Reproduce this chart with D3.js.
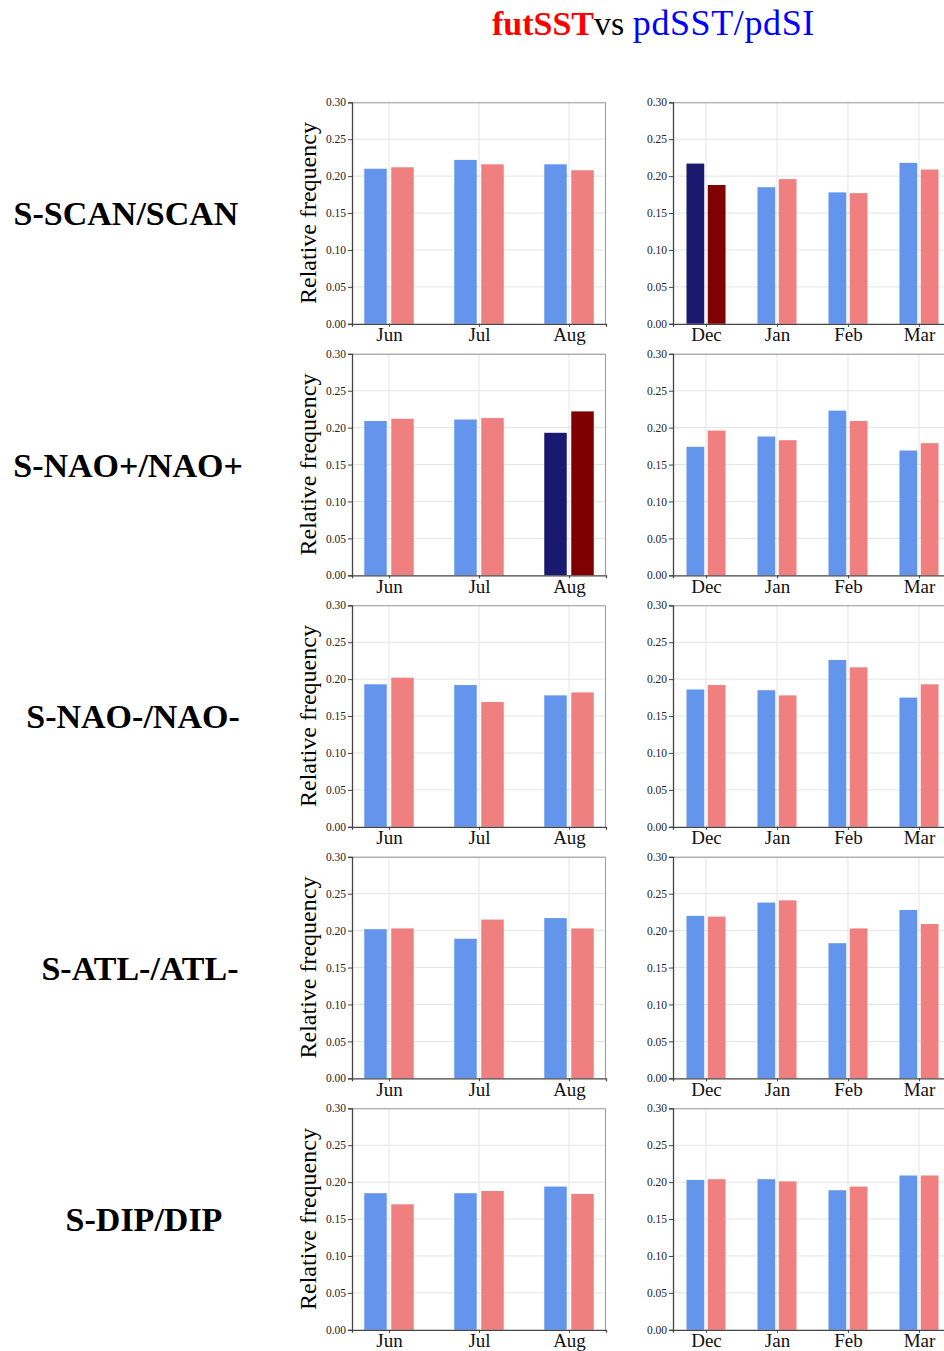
<!DOCTYPE html>
<html>
<head>
<meta charset="utf-8">
<script src="https://cdn.jsdelivr.net/npm/d3@7"></script>
<style>
  body { margin: 0; background: #fff; }
  svg { display: block; }
</style>
</head>
<body>
<div id="chart"></div>
<script>
// data
const summerMonths = ['Jun', 'Jul', 'Aug'];
const winterMonths = ['Dec', 'Jan', 'Feb', 'Mar'];
const regimes = ['S-SCAN/SCAN', 'S-NAO+/NAO+', 'S-NAO-/NAO-', 'S-ATL-/ATL-', 'S-DIP/DIP'];
const yTicks = [0, 0.05, 0.10, 0.15, 0.20, 0.25, 0.30];

// pdSST/pdSI (blue) and futSST (red), one row per regime
const summerPd = [
    [0.210, 0.222, 0.216],
    [0.209, 0.211, 0.193],
    [0.193, 0.192, 0.178],
    [0.202, 0.189, 0.217],
    [0.185, 0.185, 0.194]
];
const summerFut = [
    [0.212, 0.216, 0.208],
    [0.212, 0.213, 0.222],
    [0.202, 0.169, 0.182],
    [0.203, 0.215, 0.203],
    [0.170, 0.188, 0.184]
];
const winterPd = [
    [0.217, 0.185, 0.178, 0.218],
    [0.174, 0.188, 0.223, 0.169],
    [0.186, 0.185, 0.226, 0.175],
    [0.220, 0.238, 0.183, 0.228],
    [0.203, 0.204, 0.189, 0.209]
];
const winterFut = [
    [0.188, 0.196, 0.177, 0.209],
    [0.196, 0.183, 0.209, 0.179],
    [0.192, 0.178, 0.216, 0.193],
    [0.219, 0.241, 0.203, 0.209],
    [0.204, 0.201, 0.194, 0.209]
];
// months drawn in dark colours (significant difference)
const summerHighlight = [null, 'Aug', null, null, null];
const winterHighlight = ['Dec', null, null, null, null];

const width = 944, height = 1351;
const rowTop = 102.3, rowStep = 251.5, panelH = 221.5;
const labelCenters = [126, 128, 133, 140, 144]; // row label placement
const colors = { pd: '#6495ed', fut: '#f08080', pdDark: '#191970', futDark: '#800000' };
const serif = '"Liberation Serif", "DejaVu Serif", serif';

const svg = d3.select('#chart').append('svg')
    .attr('width', width)
    .attr('height', height);

// title
const title = svg.append('text')
    .attr('x', 492).attr('y', 35)
    .style('font-family', serif)
    .style('font-size', '34px');
title.append('tspan').attr('fill', '#ff0000').style('font-weight', 'bold').text('futSST');
title.append('tspan').attr('fill', '#000').text('vs ');
title.append('tspan').attr('fill', '#0000ff')
    .style('font-size', '36px').style('letter-spacing', '0.6px')
    .text('pdSST/pdSI');

function drawPanel(g, months, pd, fut, highlight, w, padding, yLabel) {
    let x = d3.scalePoint(months, [0, w]).padding(padding);
    let y = d3.scaleLinear([0, 0.30], [panelH, 0]);
    let step = x.step();
    let barW = 0.25 * step, off = 0.15 * step;

    // grid
    g.append('g').selectAll('line.hgrid')
        .data(yTicks.slice(1))
        .join('line')
        .attr('x1', 0).attr('x2', w)
        .attr('y1', d => y(d)).attr('y2', d => y(d))
        .attr('stroke', '#e4e4e4').attr('stroke-width', 1);
    g.append('g').selectAll('line.vgrid')
        .data(months)
        .join('line')
        .attr('x1', d => x(d)).attr('x2', d => x(d))
        .attr('y1', 0).attr('y2', panelH)
        .attr('stroke', '#e4e4e4').attr('stroke-width', 1);

    // top/right frame
    g.append('path')
        .attr('d', `M0,0.5H${w - 0.5}V${panelH}`)
        .attr('fill', 'none').attr('stroke', '#9a9a9a').attr('stroke-width', 1);

    const rows = months.map((m, i) => ({ month: m, pd: pd[i], fut: fut[i], dark: m === highlight }));

    g.append('g').selectAll('rect.pd')
        .data(rows)
        .join('rect')
        .attr('x', d => x(d.month) - off - barW / 2)
        .attr('y', d => y(d.pd))
        .attr('width', barW)
        .attr('height', d => panelH - y(d.pd))
        .attr('fill', d => d.dark ? colors.pdDark : colors.pd);
    g.append('g').selectAll('rect.fut')
        .data(rows)
        .join('rect')
        .attr('x', d => x(d.month) + off - barW / 2)
        .attr('y', d => y(d.fut))
        .attr('width', barW)
        .attr('height', d => panelH - y(d.fut))
        .attr('fill', d => d.dark ? colors.futDark : colors.fut);

    // axes
    let axY = g.append('g')
        .attr('font-family', serif)
        .call(d3.axisLeft(y).tickValues(yTicks).tickFormat(d3.format('.2f')).tickSize(4).tickPadding(2));
    axY.attr('font-family', serif);
    axY.select('.domain').attr('stroke', '#444').attr('stroke-width', 1.3);
    axY.selectAll('.tick line').attr('stroke', '#444');
    axY.selectAll('.tick text')
        .style('font-family', serif)
        .style('font-size', '11.5px').attr('fill', '#222');

    let axX = g.append('g')
        .attr('transform', `translate(0,${panelH})`)
        .call(d3.axisBottom(x).tickSize(3).tickPadding(1));
    axX.select('.domain').attr('stroke', '#444').attr('stroke-width', 1.3);
    axX.selectAll('.tick line').attr('stroke', '#444');
    axX.selectAll('.tick text')
        .style('font-family', serif)
        .style('font-size', '19px').attr('fill', '#111');

    if (yLabel) {
        g.append('text')
            .attr('transform', `translate(-36,${panelH / 2})rotate(-90)`)
            .style('text-anchor', 'middle')
            .style('font-family', serif)
            .style('font-size', '24px')
            .text('Relative frequency');
    }
}

regimes.forEach((name, i) => {
    let top = rowTop + i * rowStep;

    svg.append('text')
        .attr('x', labelCenters[i]).attr('y', top + panelH / 2 + 12)
        .style('text-anchor', 'middle')
        .style('font-family', serif)
        .style('font-weight', 'bold')
        .style('font-size', '34px')
        .text(name);

    let left = svg.append('g').attr('transform', `translate(352,${top})`);
    drawPanel(left, summerMonths, summerPd[i], summerFut[i], summerHighlight[i], 254, 0.411, true);

    let right = svg.append('g').attr('transform', `translate(673,${top})`);
    drawPanel(right, winterMonths, winterPd[i], winterFut[i], winterHighlight[i], 279, 0.465, false);
});
</script>
</body>
</html>
